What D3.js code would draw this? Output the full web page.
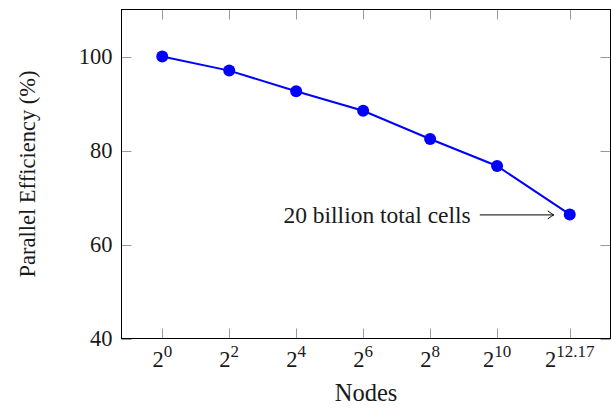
<!DOCTYPE html>
<html>
<head>
<meta charset="utf-8">
<script src="https://cdn.jsdelivr.net/npm/d3@7"></script>
<style>
  html, body { margin: 0; padding: 0; background: #fff; }
  svg { display: block; }
  text { font-family: "Liberation Serif", "Times New Roman", serif; fill: #1a1a1a; }
</style>
</head>
<body>
<svg id="chart" width="611" height="408"></svg>
<script>
// ---- data ----
const nodeExponents = [0, 2, 4, 6, 8, 10, 12.17];
const efficiency = [100, 97.0, 92.6, 88.45, 82.45, 76.7, 66.4];
const xTickExponents = [0, 2, 4, 6, 8, 10, 12.17];
const xTickLabels = ["0", "2", "4", "6", "8", "10", "12.17"];
const yTicks = [40, 60, 80, 100];
const annotationText = "20 billion total cells";
const xTitle = "Nodes";
const yTitle = "Parallel Efficiency (%)";

// ---- layout ----
const svg = d3.select("#chart");
const pLeft = 121.5, pRight = 610.5, pTop = 9.5, pBottom = 338.5;
const x = d3.scaleLinear().domain([-1.217, 13.387]).range([pLeft, pRight]);
const y = d3.scaleLinear().domain([40, 110]).range([pBottom, pTop]);
const tickLen = 10;
const tickColor = "#9a9a9a";

// ticks on all four sides (inside)
const gTicks = svg.append("g");
xTickExponents.forEach(e => {
  const xx = Math.round(x(e)) + 0.5;
  gTicks.append("line").attr("x1", xx).attr("x2", xx).attr("y1", pBottom).attr("y2", pBottom - tickLen)
    .attr("stroke", tickColor).attr("stroke-width", 1);
  gTicks.append("line").attr("x1", xx).attr("x2", xx).attr("y1", pTop).attr("y2", pTop + tickLen)
    .attr("stroke", tickColor).attr("stroke-width", 1);
});
yTicks.forEach(v => {
  const yy = Math.round(y(v)) + 0.5;
  gTicks.append("line").attr("x1", pLeft).attr("x2", pLeft + tickLen).attr("y1", yy).attr("y2", yy)
    .attr("stroke", tickColor).attr("stroke-width", 1);
  gTicks.append("line").attr("x1", pRight).attr("x2", pRight - tickLen).attr("y1", yy).attr("y2", yy)
    .attr("stroke", tickColor).attr("stroke-width", 1);
});

// frame
svg.append("rect").attr("x", pLeft).attr("y", pTop)
  .attr("width", pRight - pLeft).attr("height", pBottom - pTop)
  .attr("fill", "none").attr("stroke", "#000").attr("stroke-width", 1);

// y tick labels
yTicks.forEach(v => {
  svg.append("text").attr("x", pLeft - 9).attr("y", y(v) + 7.5)
    .attr("text-anchor", "end").attr("font-size", 22.5).text(v);
});

// x tick labels 2^e
xTickExponents.forEach((e, i) => {
  const t = svg.append("text").attr("x", x(e)).attr("y", 367)
    .attr("text-anchor", "middle").attr("font-size", 22.5);
  t.append("tspan").text("2");
  t.append("tspan").attr("dy", -10).attr("font-size", 17).text(xTickLabels[i]);
});

// axis titles
svg.append("text").attr("x", (pLeft + pRight) / 2).attr("y", 401)
  .attr("text-anchor", "middle").attr("font-size", 24.5).text(xTitle);
svg.append("text").attr("transform", `translate(35,${(pTop + pBottom) / 2}) rotate(-90)`)
  .attr("text-anchor", "middle").attr("font-size", 22.5).text(yTitle);

// line + markers
const pts = nodeExponents.map((e, i) => [e, efficiency[i]]);
svg.append("path").datum(pts)
  .attr("d", d3.line().x(d => x(d[0])).y(d => y(d[1])))
  .attr("fill", "none").attr("stroke", "#0000ff").attr("stroke-width", 2);
svg.selectAll("circle.m").data(pts).enter().append("circle")
  .attr("cx", d => x(d[0])).attr("cy", d => y(d[1])).attr("r", 6).attr("fill", "#0000ff");

// annotation arrow pointing at last point
const last = pts[pts.length - 1];
const ax2 = x(last[0]) - 16, ay = y(last[1]) + 0.5, ax1 = x(last[0]) - 90;
svg.append("line").attr("x1", ax1).attr("x2", ax2).attr("y1", ay).attr("y2", ay)
  .attr("stroke", "#000").attr("stroke-width", 1);
svg.append("path").attr("d", `M${ax2 - 6},${ay - 4} Q${ax2 - 2},${ay - 1} ${ax2},${ay} Q${ax2 - 2},${ay + 1} ${ax2 - 6},${ay + 4}`)
  .attr("fill", "none").attr("stroke", "#000").attr("stroke-width", 1);
svg.append("text").attr("x", ax1 - 9).attr("y", ay + 8.5)
  .attr("text-anchor", "end").attr("font-size", 23.5).text(annotationText);
</script>
</body>
</html>
